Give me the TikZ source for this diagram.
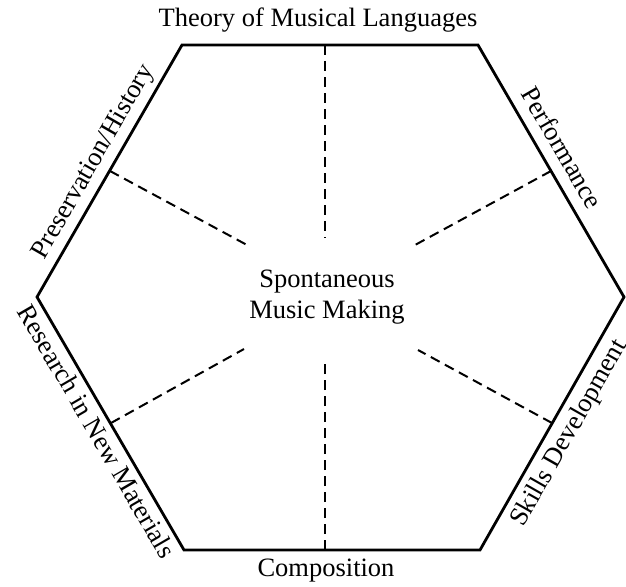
\documentclass[tikz,border=0pt]{standalone}
\usepackage{fontspec}
\setmainfont{Liberation Serif}
\usepackage{tikz}

\begin{document}
\begin{tikzpicture}[x=1pt,y=-1pt,line join=miter]
  \tikzstyle{edge}=[draw=black,line width=2.8pt]
  \tikzstyle{spoke}=[draw=black,line width=2pt,dash pattern=on 10pt off 6pt]
  \tikzstyle{lbl}=[font=\fontsize{26.5}{31}\selectfont,inner sep=2pt]
  \useasboundingbox (0,0) rectangle (626,586);

  % corners of the hexagon
  \coordinate (tl) at (182,45);
  \coordinate (tr) at (478,45);
  \coordinate (r)  at (624,297);
  \coordinate (br) at (480,550);
  \coordinate (bl) at (184,550);
  \coordinate (l)  at (37,297);

  % spoke ends
  \coordinate (t0) at (325,45);   \coordinate (t1) at (325,238);
  \coordinate (b0) at (325,550);  \coordinate (b1) at (325,358);
  \coordinate (ul0) at (110,171); \coordinate (ul1) at (247,245);
  \coordinate (ur0) at (551,171); \coordinate (ur1) at (415,245);
  \coordinate (ll0) at (111,423); \coordinate (ll1) at (244,349);
  \coordinate (lr0) at (552,423); \coordinate (lr1) at (418,350);

  \draw[edge] (tl) -- (tr) -- (r) -- (br) -- (bl) -- (l) -- cycle;

  \draw[spoke] (t0) -- (t1);
  \draw[spoke] (b0) -- (b1);
  \draw[spoke] (ul0) -- (ul1);
  \draw[spoke] (ur0) -- (ur1);
  \draw[spoke] (ll0) -- (ll1);
  \draw[spoke] (lr0) -- (lr1);

  \node[lbl,align=center] (mid) at (327,297) {Spontaneous\\Music Making};
  \node[lbl,anchor=base] (theory) at (318,27) {Theory of Musical Languages};
  \node[lbl,anchor=base] (comp) at (326,576) {Composition};

  \path (l) -- node[lbl,sloped,above=4pt] (hist) {Preservation/History} (tl);
  \path (tr) -- node[lbl,sloped,above=10pt,pos=0.45] (perf) {Performance} (r);
  \path (l) -- node[lbl,sloped,below=4pt] (res) {Research in New Materials} (bl);
  \path (br) -- node[lbl,sloped,below=6pt,pos=0.5] (skill) {Skills Development} (r);
\end{tikzpicture}
\end{document}
